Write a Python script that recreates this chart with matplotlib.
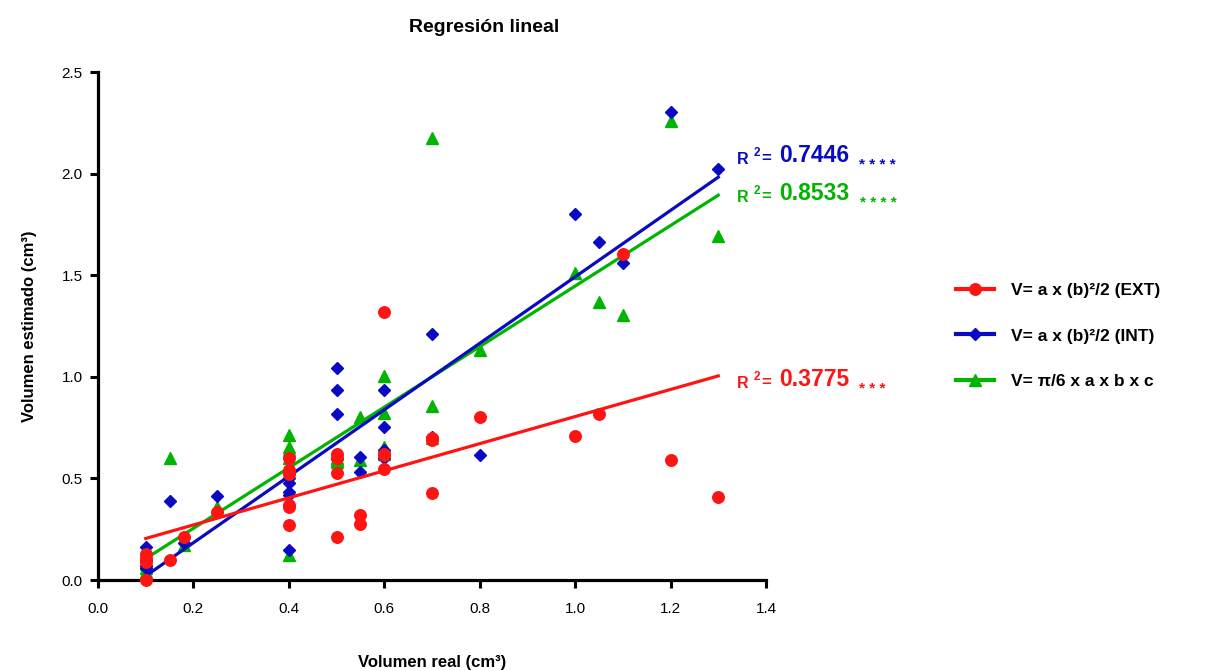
import numpy as np
import matplotlib
matplotlib.use("Agg")
import matplotlib.pyplot as plt

plt.rcParams["font.family"] = ["Liberation Sans", "DejaVu Sans"]

# volumen real (cm3) for each sample
x_real = [0.1, 0.1, 0.1, 0.1, 0.15, 0.18, 0.25,
          0.4, 0.4, 0.4, 0.4, 0.4, 0.4,
          0.5, 0.5, 0.5, 0.5, 0.55, 0.55,
          0.6, 0.6, 0.6, 0.6, 0.7, 0.7, 0.7,
          0.8, 1.0, 1.05, 1.1, 1.2, 1.3]

# estimated volumes for each formula
v_ext = [0.0, 0.09, 0.11, 0.13, 0.10, 0.21, 0.333,
         0.60, 0.54, 0.52, 0.37, 0.36, 0.27,
         0.62, 0.60, 0.525, 0.21, 0.32, 0.275,
         1.32, 0.62, 0.615, 0.545, 0.70, 0.69, 0.427,
         0.80, 0.709, 0.815, 1.604, 0.59, 0.407]
v_int = [0.164, 0.098, 0.07, 0.057, 0.39, 0.18, 0.415,
         0.52, 0.50, 0.476, 0.435, 0.418, 0.148,
         1.042, 0.935, 0.815, 0.60, 0.607, 0.533,
         0.935, 0.751, 0.64, 0.60, 1.21, 0.705, 0.70,
         0.615, 1.80, 1.665, 1.558, 2.305, 2.023]
v_elip = [0.10, 0.08, 0.06, 0.041, 0.60, 0.17, 0.36,
          0.714, 0.656, 0.64, 0.60, 0.55, 0.123,
          0.62, 0.60, 0.59, 0.58, 0.80, 0.59,
          1.004, 0.823, 0.656, 0.62, 2.174, 0.858, 0.70,
          1.132, 1.509, 1.37, 1.304, 2.26, 1.694]

labels = ["V= a x (b)\u00b2/2 (EXT)", "V= a x (b)\u00b2/2 (INT)", "V= \u03c0/6 x a x b x c"]
r2_values = ["0.7446", "0.8533", "0.3775"]
r2_stars = ["* * * *", "* * * *", "* * *"]

red = "#FF1414"
blue = "#0A0AC0"
green = "#00B400"

fig = plt.figure(figsize=(12.31, 6.71), dpi=100)
ax = fig.add_axes([98 / 1231, 91 / 671, 668 / 1231, 508 / 671])

series = [
    (v_ext, red, "o", 8.3, 5),
    (v_int, blue, "D", 6, 4),
    (v_elip, green, "^", 8, 3),
]
xs = np.array(x_real)
x_fit = np.array([min(x_real), max(x_real)])
handles = []
for (vals, col, mk, ms, z), lab in zip(series, labels):
    ax.plot(xs, vals, linestyle="none", marker=mk, markersize=ms, color=col,
            zorder=z, clip_on=False)
    slope, icpt = np.polyfit(xs, vals, 1)
    ax.plot(x_fit, slope * x_fit + icpt, color=col, lw=2.3, zorder=z - 0.5)
    h, = ax.plot([], [], color=col, lw=3, marker=mk, markersize=ms)
    handles.append(h)

# R^2 annotations next to line ends (order: INT, ELIP, EXT)
r2_info = [
    (2.067, blue, r2_values[0], r2_stars[0]),
    (1.88, green, r2_values[1], r2_stars[1]),
    (0.965, red, r2_values[2], r2_stars[2]),
]
for yv, col, val, st in r2_info:
    t1 = ax.text(1.34, yv, "R", color=col, fontsize=11.5, fontweight="bold",
                 va="center", ha="left", clip_on=False)
    ax.annotate("2", xy=(1, 0.55), xycoords=t1, xytext=(3, 0),
                textcoords="offset points", color=col, fontsize=8.5,
                fontweight="bold", va="bottom", ha="left")
    t3 = ax.annotate("=", xy=(1, 0), xycoords=t1, xytext=(9, 1),
                     textcoords="offset points", color=col, fontsize=12,
                     fontweight="bold", va="bottom", ha="left")
    t4 = ax.annotate(val, xy=(1, 0), xycoords=t3, xytext=(6, -1),
                     textcoords="offset points", color=col, fontsize=16.5,
                     fontweight="bold", va="bottom", ha="left")
    ax.annotate(st, xy=(1, 0), xycoords=t4, xytext=(7, -3),
                textcoords="offset points", color=col, fontsize=11,
                fontweight="bold", va="bottom", ha="left")

ax.set_xlim(0, 1.4)
ax.set_ylim(0, 2.5)
ax.set_xticks(np.arange(0, 1.41, 0.2))
ax.set_yticks(np.arange(0, 2.51, 0.5))
ax.set_xticklabels([f"{v:.1f}" for v in np.arange(0, 1.41, 0.2)])
ax.set_yticklabels([f"{v:.1f}" for v in np.arange(0, 2.51, 0.5)])
for s in ["top", "right"]:
    ax.spines[s].set_visible(False)
for s in ["left", "bottom"]:
    ax.spines[s].set_linewidth(2.3)
ax.tick_params(direction="out", length=6, width=2.2, labelsize=11, pad=5)
ax.tick_params(axis="x", pad=10)

ax.set_xlabel("Volumen real (cm\u00b3)", fontsize=12, fontweight="bold", labelpad=28)
ax.set_ylabel("Volumen estimado (cm\u00b3)", fontsize=12, fontweight="bold", labelpad=18)
fig.text(484 / 1231, 1 - 28 / 671, "Regresión lineal", fontsize=14, fontweight="bold",
         ha="center", va="center")

fig.legend(handles, labels, loc="center left", bbox_to_anchor=(940 / 1231, 1 - 336 / 671),
           frameon=False, prop={"weight": "bold", "size": 12.5}, handlelength=2.2,
           labelspacing=1.75, handletextpad=1.0)

fig.savefig("out.png", dpi=100)
